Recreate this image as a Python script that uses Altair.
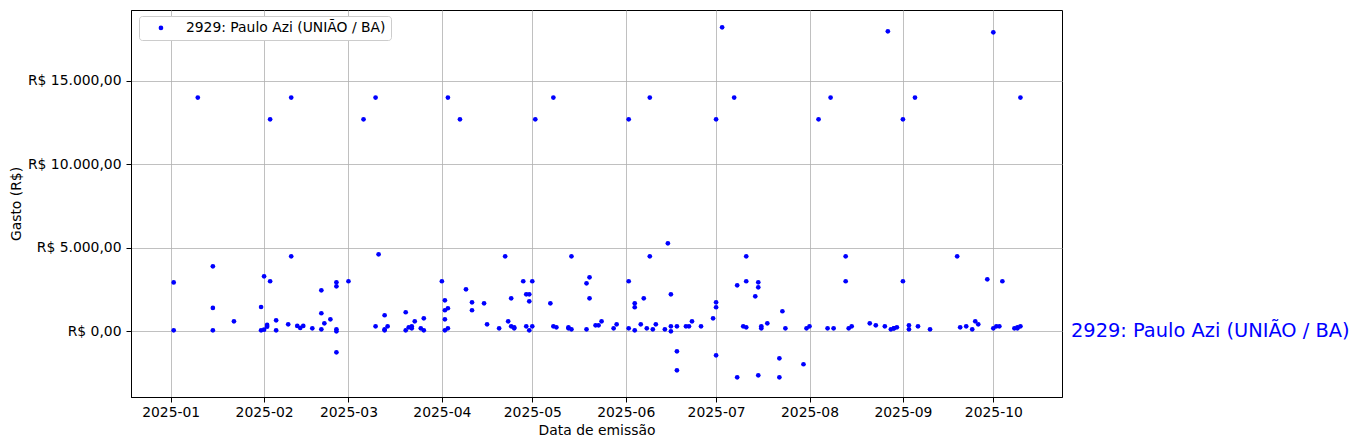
import altair as alt
import pandas as pd

series_name = "2929: Paulo Azi (UNIÃO / BA)"

dates = [
    "2025-01-02", "2025-01-02", "2025-01-10", "2025-01-15", "2025-01-15", "2025-01-15",
    "2025-01-22", "2025-01-31", "2025-01-31", "2025-02-01", "2025-02-01", "2025-02-02",
    "2025-02-02", "2025-02-03", "2025-02-03", "2025-02-05", "2025-02-05", "2025-02-09",
    "2025-02-10", "2025-02-10", "2025-02-12", "2025-02-13", "2025-02-14", "2025-02-17",
    "2025-02-20", "2025-02-20", "2025-02-20", "2025-02-21", "2025-02-23", "2025-02-25",
    "2025-02-25", "2025-02-25", "2025-02-25", "2025-02-25", "2025-03-01", "2025-03-06",
    "2025-03-10", "2025-03-10", "2025-03-11", "2025-03-13", "2025-03-13", "2025-03-13",
    "2025-03-14", "2025-03-20", "2025-03-20", "2025-03-21", "2025-03-22", "2025-03-22",
    "2025-03-23", "2025-03-25", "2025-03-26", "2025-03-26", "2025-04-01", "2025-04-02",
    "2025-04-02", "2025-04-02", "2025-04-02", "2025-04-03", "2025-04-03", "2025-04-03",
    "2025-04-07", "2025-04-09", "2025-04-11", "2025-04-11", "2025-04-15", "2025-04-16",
    "2025-04-20", "2025-04-22", "2025-04-23", "2025-04-24", "2025-04-24", "2025-04-25",
    "2025-04-25", "2025-04-28", "2025-04-29", "2025-04-29", "2025-04-30", "2025-04-30",
    "2025-04-30", "2025-05-01", "2025-05-01", "2025-05-02", "2025-05-07", "2025-05-08",
    "2025-05-08", "2025-05-09", "2025-05-13", "2025-05-13", "2025-05-14", "2025-05-14",
    "2025-05-19", "2025-05-19", "2025-05-20", "2025-05-20", "2025-05-22", "2025-05-23",
    "2025-05-24", "2025-05-28", "2025-05-29", "2025-06-02", "2025-06-02", "2025-06-02",
    "2025-06-04", "2025-06-04", "2025-06-04", "2025-06-06", "2025-06-07", "2025-06-08",
    "2025-06-09", "2025-06-09", "2025-06-10", "2025-06-11", "2025-06-14", "2025-06-15",
    "2025-06-16", "2025-06-16", "2025-06-16", "2025-06-18", "2025-06-18", "2025-06-18",
    "2025-06-21", "2025-06-22", "2025-06-23", "2025-06-26", "2025-06-30", "2025-07-01",
    "2025-07-01", "2025-07-01", "2025-07-01", "2025-07-03", "2025-07-07", "2025-07-08",
    "2025-07-08", "2025-07-10", "2025-07-11", "2025-07-11", "2025-07-11", "2025-07-14",
    "2025-07-15", "2025-07-15", "2025-07-15", "2025-07-16", "2025-07-16", "2025-07-18",
    "2025-07-22", "2025-07-22", "2025-07-23", "2025-07-24", "2025-07-30", "2025-07-31",
    "2025-08-01", "2025-08-04", "2025-08-07", "2025-08-08", "2025-08-09", "2025-08-13",
    "2025-08-13", "2025-08-14", "2025-08-15", "2025-08-21", "2025-08-23", "2025-08-26",
    "2025-08-27", "2025-08-28", "2025-08-29", "2025-08-29", "2025-08-30", "2025-09-01",
    "2025-09-01", "2025-09-03", "2025-09-03", "2025-09-05", "2025-09-06", "2025-09-10",
    "2025-09-19", "2025-09-20", "2025-09-22", "2025-09-24", "2025-09-25", "2025-09-26",
    "2025-09-29", "2025-10-01", "2025-10-01", "2025-10-02", "2025-10-03", "2025-10-04",
    "2025-10-08", "2025-10-09", "2025-10-09", "2025-10-10", "2025-10-10",
]

values = [
    2930, 60, 14000, 3890, 1400, 60,
    600, 1455, 60, 3295, 100, 275,
    380, 12700, 3000, 660, 60, 420,
    14000, 4490, 320, 200, 320, 180,
    1080, 2455, 120, 480, 720, 2935,
    2695, 120, 0, -1260, 3000, 12700,
    14000, 300, 4610, 960, 60, 120,
    300, 1140, 60, 240, 300, 180,
    600, 180, 780, 60, 3000, 1855,
    1260, 720, 60, 14000, 1380, 180,
    12700, 2515, 1735, 1260, 1675, 420,
    180, 4490, 600, 1975, 300, 240,
    180, 3000, 2215, 300, 2215, 1795,
    60, 3000, 300, 12700, 1675, 14000,
    300, 240, 240, 180, 4490, 120,
    2875, 120, 3235, 1975, 360, 360,
    600, 180, 420, 12700, 3000, 180,
    1675, 1440, 60, 420, 1975, 180,
    14000, 4490, 120, 420, 120, 5270,
    2215, 0, 300, -1200, -2335, 300,
    300, 300, 600, 300, 780, 12700,
    1735, 1440, -1440, 18210, 14000, 2755,
    -2755, 300, 4490, 3000, 240, 2095,
    2935, 2635, -2635, 300, 180, 480,
    -1620, -2755, 1200, 180, -1975, 180,
    300, 12700, 180, 14000, 180, 4490,
    3000, 180, 300, 480, 360, 300,
    17970, 120, 180, 180, 240, 12700,
    3000, 360, 120, 14000, 300, 120,
    4490, 240, 300, 120, 600, 420,
    3115, 17910, 180, 300, 300, 3000,
    180, 180, 240, 14000, 300,
]

y_ticks = [0, 5000, 10000, 15000]
x_tick_months = [1, 2, 3, 4, 5, 6, 7, 8, 9, 10]

df = pd.DataFrame({"data": dates, "gasto": values, "serie": series_name})
label_df = pd.DataFrame({"label": [series_name], "v": [0]})

FONT = "DejaVu Sans"

x_scale = alt.Scale(
    type="utc",
    nice=False,
    domain=[
        alt.DateTime(year=2024, month=12, date=18, hours=20, utc=True),
        alt.DateTime(year=2025, month=10, date=23, hours=19, utc=True),
    ],
)
y_scale = alt.Scale(domain=[-3935, 19246], nice=False, zero=False)

points = alt.Chart(df).mark_circle(size=22, opacity=1).encode(
    x=alt.X(
        "data:T",
        scale=x_scale,
        axis=alt.Axis(
            title="Data de emissão",
            values=[alt.DateTime(year=2025, month=m, date=1, utc=True) for m in x_tick_months],
            labelExpr="utcFormat(datum.value, '%Y-%m')",
            labelPadding=3,
            titlePadding=5,
            labelAngle=0,
        ),
    ),
    y=alt.Y(
        "gasto:Q",
        scale=y_scale,
        axis=alt.Axis(
            title="Gasto (R$)",
            values=y_ticks,
            labelExpr="'R$ ' + replace(replace(replace(format(datum.value, ',.2f'), ',', '_'), '.', ','), '_', '.')",
            labelPadding=5,
            titlePadding=4,
        ),
    ),
    color=alt.Color(
        "serie:N",
        scale=alt.Scale(domain=[series_name], range=["blue"]),
        legend=alt.Legend(
            title=None,
            orient="none",
            legendX=8,
            legendY=6,
            padding=5,
            fillColor="white",
            strokeColor="#cccccc",
            cornerRadius=3,
            symbolType="circle",
            symbolSize=22,
            symbolStrokeWidth=0,
            symbolOffset=10,
            labelOffset=18,
            labelLimit=500,
            labelFont=FONT,
            labelFontSize=13.9,
            labelColor="black",
        ),
    ),
)

side_label = alt.Chart(label_df).mark_text(
    align="left",
    baseline="middle",
    fontSize=19.4,
    font=FONT,
    color="blue",
).encode(
    x=alt.value(940),
    y=alt.Y("v:Q", scale=y_scale),
    text="label:N",
)

chart = alt.layer(points, side_label).properties(
    width=931,
    height=387,
    autosize=alt.AutoSizeParams(type="none"),
    padding={"left": 123, "top": 2, "right": 289, "bottom": 42},
    background="white",
).configure_view(
    stroke="black",
    strokeWidth=1,
).configure_axis(
    grid=True,
    gridColor="#b0b0b0",
    gridWidth=0.8,
    domainColor="black",
    domainWidth=1,
    tickColor="black",
    tickSize=5,
    tickWidth=1,
    labelColor="black",
    titleColor="black",
    labelFont=FONT,
    titleFont=FONT,
    labelFontSize=13.9,
    titleFontSize=13.9,
    titleFontWeight="normal",
)

chart.save("out.html", embed_options={"renderer": "svg", "actions": False})
